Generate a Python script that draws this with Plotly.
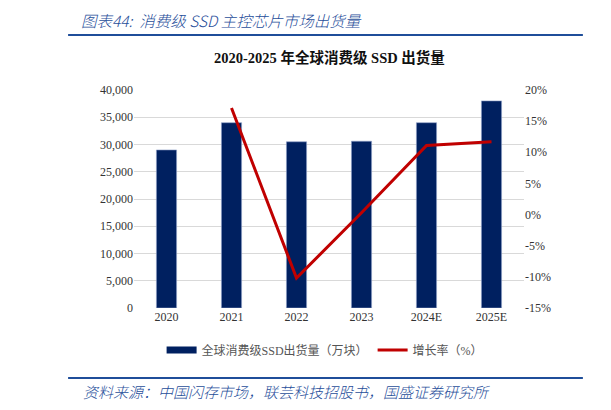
import plotly.graph_objects as go

""" ----------------DADOS---------------- """
years = ["2020", "2021", "2022", "2023", "2024E", "2025E"]
shipments = [29000, 34000, 30500, 30600, 34000, 38000]
growth_years = ["2021", "2022", "2023", "2024E", "2025E"]
growth = [17.1, -10.2, 0.3, 11.1, 11.7]

left_ticks = [0, 5000, 10000, 15000, 20000, 25000, 30000, 35000, 40000]
right_ticks = [-15, -10, -5, 0, 5, 10, 15, 20]
right_labels = ["-15%", "-10%", "-5%", "0%", "5%", "10%", "15%", "20%"]

SERIF = "Liberation Serif, Times New Roman, serif"
CJK = "Liberation Serif, Noto Sans CJK SC, serif"
BLUE = "#1F4E9A"

""" ----------------GRÁFICO---------------- """
fig = go.Figure()

fig.add_trace(go.Bar(
    x=years, y=shipments,
    name="全球消费级SSD出货量（万块）",
    marker=dict(color="#002060", line=dict(color="#8fa0c8", width=0.6)),
    yaxis="y", showlegend=False,
))
# entrada de legenda com símbolo retangular largo
fig.add_trace(go.Scatter(
    x=[None], y=[None], mode="lines",
    name="全球消费级SSD出货量（万块）",
    line=dict(color="#002060", width=7),
))

fig.add_trace(go.Scatter(
    x=growth_years, y=growth,
    name="增长率（%）",
    mode="lines",
    line=dict(color="#C00000", width=3),
    yaxis="y2",
))

fig.update_layout(
    width=603, height=402,
    margin=dict(l=126, r=87, t=82, b=102),
    paper_bgcolor="white", plot_bgcolor="white",
    bargap=0.69,
    showlegend=True,
    legend=dict(
        orientation="h", x=0.49, xanchor="center", y=-0.193, yanchor="middle",
        font=dict(family=CJK, size=12, color="#555555"),
        itemwidth=30, traceorder="normal", tracegroupgap=0,
    ),
    xaxis=dict(
        tickfont=dict(family=SERIF, size=12, color="#333333"),
        showgrid=False, showline=False, ticks="",
    ),
    yaxis=dict(
        range=[0, 40000], tickvals=left_ticks, tickformat=",",
        tickfont=dict(family=SERIF, size=12, color="#333333"),
        showgrid=True, gridcolor="#d9d9d9", gridwidth=1,
        zeroline=False, showline=False, ticks="",
    ),
    yaxis2=dict(
        range=[-15, 20], tickvals=right_ticks, ticktext=right_labels,
        overlaying="y", side="right",
        tickfont=dict(family=SERIF, size=12, color="#333333"),
        showgrid=False, zeroline=False, showline=False, ticks="",
    ),
)

# cabeçalho e rodapé
fig.add_annotation(
    text="图表44:  消费级 SSD 主控芯片市场出货量",
    xref="paper", yref="paper", x=-0.14, y=1.32, xanchor="left", yanchor="middle",
    showarrow=False,
    font=dict(family="Noto Sans CJK SC", size=15.5, color=BLUE, style="italic",
              weight=300),
)
fig.add_annotation(
    text="<b>2020-2025 年全球消费级 SSD 出货量</b>",
    xref="paper", yref="paper", x=0.5, y=1.147, xanchor="center", yanchor="middle",
    showarrow=False,
    font=dict(family=CJK, size=14.5, color="#111111"),
)
fig.add_annotation(
    text="资料来源：中国闪存市场，联芸科技招股书，国盛证券研究所",
    xref="paper", yref="paper", x=-0.135, y=-0.381, xanchor="left", yanchor="middle",
    showarrow=False,
    font=dict(family="Noto Sans CJK SC", size=15, color=BLUE, style="italic",
              weight=300),
)
for yy in [1.252, -0.321]:
    fig.add_shape(type="line", xref="paper", yref="paper",
                  x0=-0.169, x1=1.151, y0=yy, y1=yy,
                  line=dict(color="#1F4E9A", width=2))
    fig.add_shape(type="line", xref="paper", yref="paper",
                  x0=1.213, x1=1.24, y0=yy, y1=yy,
                  line=dict(color="#1F4E9A", width=2))

fig.write_html("out.html")
